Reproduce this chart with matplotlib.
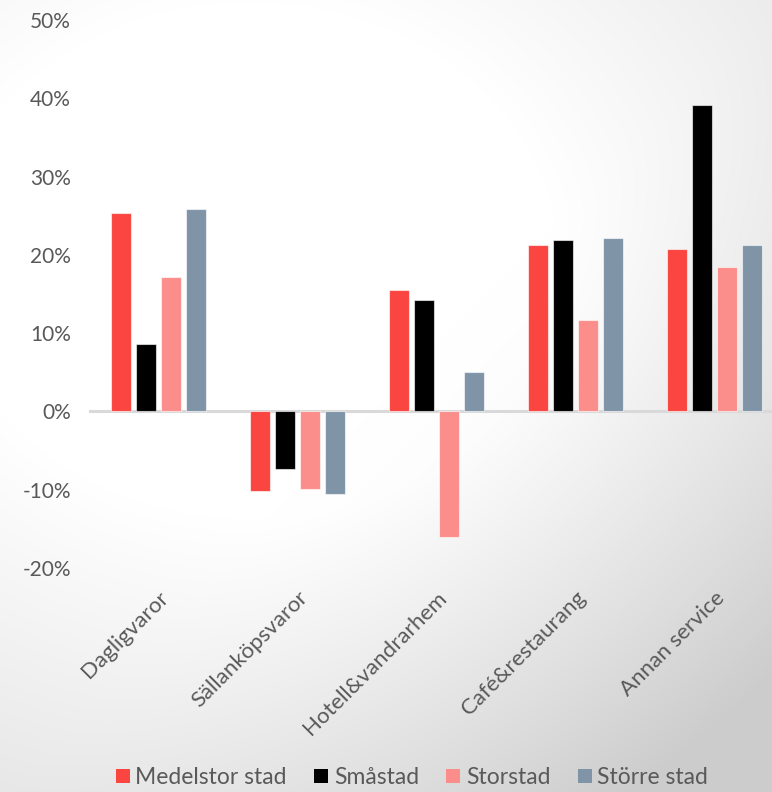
import numpy as np
import matplotlib
matplotlib.use("Agg")
import matplotlib.pyplot as plt
from matplotlib.patches import Patch

categories = ["Dagligvaror", "Sällanköpsvaror", "Hotell&vandrarhem", "Café&restaurang", "Annan service"]
series_names = ["Medelstor stad", "Småstad", "Storstad", "Större stad"]
medelstor = [25.3, -10.2, 15.5, 21.2, 20.7]
smastad = [8.6, -7.4, 14.2, 21.9, 39.2]
storstad = [17.2, -9.9, -16.0, 11.7, 18.4]
storre = [25.8, -10.5, 5.0, 22.1, 21.2]
colors = ["#FA4540", "#000000", "#FB8E8A", "#8094A8"]
yticks = [-20, -10, 0, 10, 20, 30, 40, 50]

plt.rcParams['font.family'] = ['Lato', 'DejaVu Sans']

W, H = 772, 792
fig = plt.figure(figsize=(W / 100, H / 100), dpi=100)

# background radial gradient
bg = fig.add_axes([0, 0, 1, 1], zorder=-10)
yy, xx = np.mgrid[0:H, 0:W]
cx, cy = 250, 260
r = np.sqrt(((xx - cx) / 560.0) ** 2 + ((yy - cy) / 470.0) ** 2)
val = 1.0 - 0.07 * np.clip(r - 0.55, 0, None) / 0.5
# darker toward bottom-right
d = np.clip((xx / W + yy / H - 1.0), 0, None)
val = val - 0.12 * d ** 1.4
val = np.clip(val, 0.80, 1.0)
img = np.dstack([val, val, val])
bg.imshow(img, extent=[0, 1, 0, 1], aspect='auto', origin='upper')
bg.axis('off')

ax = fig.add_axes([89 / W, 1 - 568 / H, (784 - 89) / W, (568 - 20) / H])
ax.patch.set_alpha(0)

x = np.arange(len(categories))
step = 0.18
width = 0.145
data = [medelstor, smastad, storstad, storre]
for i, (vals, c) in enumerate(zip(data, colors)):
    ax.bar(x + (i - 1.5) * step, vals, width=width, color=c,
           edgecolor=(1, 1, 1, 0.6), linewidth=0.8, zorder=3)

ax.set_xlim(-0.5, len(categories) - 0.5)
ax.set_ylim(-20, 50)
ax.set_yticks(yticks)
ax.set_yticklabels([f"{t}%" for t in yticks], fontsize=15, color="#595959")
ax.axhline(0, color="#D9D9D9", linewidth=2.2, zorder=2)
for s in ax.spines.values():
    s.set_visible(False)
ax.tick_params(axis='both', length=0)
ax.tick_params(axis='y', pad=13)
ax.set_xticks(x)
ax.set_xticklabels(categories, rotation=45, ha='right', rotation_mode='anchor',
                   fontsize=16, color="#595959")
ax.tick_params(axis='x', pad=14)

handles = [Patch(facecolor=c, edgecolor='none') for c in colors]
fig.legend(handles, series_names, loc='lower center', bbox_to_anchor=(412 / W, -0.021),
           ncol=4, frameon=False, fontsize=16.5, handlelength=0.6, handleheight=0.6,
           handletextpad=0.25, columnspacing=1.2, labelcolor="#595959")

fig.savefig("out.png", dpi=100)
